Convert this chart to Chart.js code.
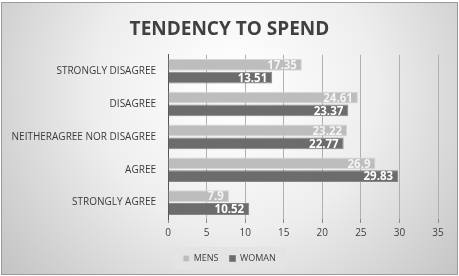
<!DOCTYPE html>
<html>
<head>
<meta charset="utf-8">
<script src="https://cdn.jsdelivr.net/npm/chart.js@4"></script>
<style>
  html, body { margin: 0; padding: 0; background: #fff; }
  #wrap { width: 459px; height: 276px; }
</style>
</head>
<body>
<div id="wrap"><canvas id="chart" width="459" height="276"></canvas></div>
<script>
// chart data
const categories = ['STRONGLY DISAGREE', 'DISAGREE', 'NEITHERAGREE NOR DISAGREE', 'AGREE', 'STRONGLY AGREE'];
const mens = [17.35, 24.61, 23.22, 26.9, 7.9];
const woman = [13.51, 23.37, 22.77, 29.83, 10.52];
const xTicks = [0, 5, 10, 15, 20, 25, 30, 35];

const fontFam = "'Open Sans', 'Liberation Sans', sans-serif";

// title and legend are centred on the whole picture, not on the padded box
const centerBoxes = {
    id: 'centerBoxes',
    afterLayout(chart) {
        const shift = chart.width / 2 - (chart.titleBlock.left + chart.titleBlock.right) / 2;
        [chart.titleBlock, chart.legend].forEach(b => {
            if (!b) return;
            b.left += shift;
            b.right += shift;
        });
    }
};

// background gradient + frame, drawn before everything else
const backdrop = {
    id: 'backdrop',
    beforeDraw(chart) {
        const ctx = chart.ctx;
        const w = chart.width, h = chart.height;
        ctx.save();
        ctx.fillStyle = '#ffffff';
        ctx.fillRect(0, 0, w, h);
        const g = ctx.createRadialGradient(235, 90, 10, 235, 90, 300);
        g.addColorStop(0, '#ffffff');
        g.addColorStop(0.45, '#eeeeee');
        g.addColorStop(1, '#c2c2c2');
        ctx.fillStyle = g;
        ctx.fillRect(2, 3, w - 4, h - 5);
        ctx.strokeStyle = '#9a9a9a';
        ctx.lineWidth = 1;
        ctx.strokeRect(1.5, 2.5, w - 3, h - 4);
        // legend panel behind the items
        const lg = chart.legend;
        if (lg) {
            const cx = (lg.left + lg.right) / 2;
            const cy = (lg.top + lg.bottom) / 2;
            ctx.fillStyle = '#e4e4e4';
            ctx.fillRect(cx - 55, cy - 11, 111, 22);
        }
        ctx.restore();
    }
};

// value labels at the end of each bar
const barLabels = {
    id: 'barLabels',
    afterDatasetsDraw(chart) {
        const ctx = chart.ctx;
        ctx.save();
        ctx.font = 'bold 11.5px ' + fontFam;
        ctx.textAlign = 'right';
        ctx.textBaseline = 'middle';
        chart.data.datasets.forEach((ds, i) => {
            const meta = chart.getDatasetMeta(i);
            meta.data.forEach((bar, j) => {
                ctx.fillStyle = i === 0 ? '#f4f4f4' : '#ffffff';
                ctx.fillText(String(ds.data[j]), bar.x - 5, bar.y + 1);
            });
        });
        ctx.restore();
    }
};

new Chart(document.getElementById('chart'), {
    type: 'bar',
    data: {
        labels: categories,
        datasets: [
            {
                label: 'MENS',
                data: mens,
                backgroundColor: '#bdbdbd',
                borderColor: '#d6d6d6',
                borderWidth: 1,
                barPercentage: 0.92,
                categoryPercentage: 0.78
            },
            {
                label: 'WOMAN',
                data: woman,
                backgroundColor: '#6c6c6c',
                borderColor: '#858585',
                borderWidth: 1,
                barPercentage: 0.92,
                categoryPercentage: 0.78
            }
        ]
    },
    options: {
        indexAxis: 'y',
        responsive: false,
        animation: false,
        layout: { padding: { left: 4, right: 21, top: 8, bottom: 3 } },
        plugins: {
            title: {
                display: true,
                text: 'TENDENCY TO SPEND',
                color: '#404040',
                font: { family: fontFam, size: 19, weight: 'bold' },
                padding: { top: 10, bottom: 14 }
            },
            legend: {
                position: 'bottom',
                labels: {
                    color: '#404040',
                    font: { family: fontFam, size: 9 },
                    boxWidth: 6,
                    boxHeight: 6,
                    padding: 11
                }
            },
            tooltip: { enabled: false }
        },
        scales: {
            x: {
                min: 0,
                max: 35,
                afterBuildTicks(axis) {
                    axis.ticks = xTicks.map(v => ({ value: v }));
                },
                ticks: {
                    color: '#404040',
                    font: { family: fontFam, size: 10 },
                    padding: 4
                },
                grid: {
                    color: '#b0b0b0',
                    tickColor: '#8a8a8a',
                    tickLength: 4
                },
                border: { display: false }
            },
            y: {
                afterFit(axis) { axis.width = 164; },
                ticks: {
                    color: '#3a3a3a',
                    font: { family: fontFam, size: 10 },
                    padding: 4
                },
                grid: { display: false },
                border: { display: true, color: '#555555', width: 1 }
            }
        }
    },
    plugins: [centerBoxes, backdrop, barLabels]
});
</script>
</body>
</html>
